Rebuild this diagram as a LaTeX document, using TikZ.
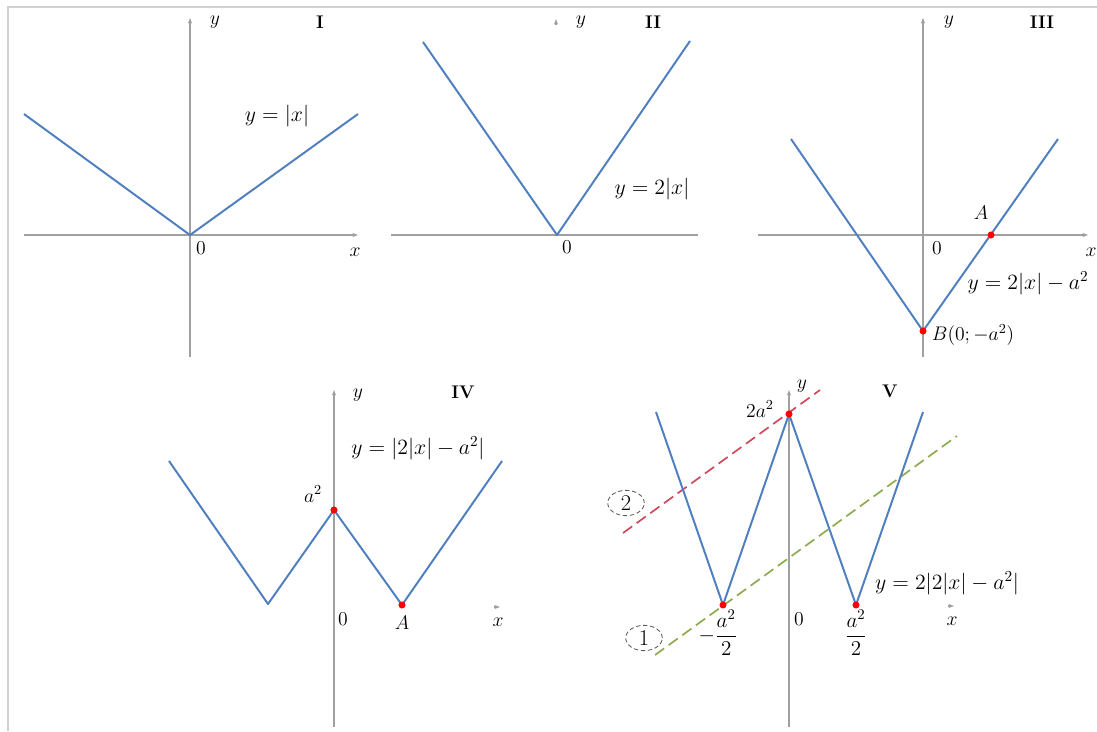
\RequirePackage{fix-cm}
\documentclass[tikz,border=0pt]{standalone}
\usepackage{amsmath}
\usetikzlibrary{arrows.meta, shapes.geometric}
\definecolor{graphblue}{HTML}{4F7FBF}
\definecolor{lineRed}{HTML}{D0485A}
\definecolor{lineGreen}{HTML}{8CAA4E}
\definecolor{axisGray}{HTML}{A0A0A0}
\tikzset{
  axis/.style={axisGray, line width=1pt, -{Stealth[length=4pt,width=3pt]}},
  bare axis/.style={axisGray, line width=1pt},
  graph/.style={graphblue, line width=1.4pt, line join=round},
  dot/.style={circle, fill=red, inner sep=0pt, minimum size=5pt},
  lbl/.style={font=\fontsize{14}{16}\selectfont},
  frac/.style={font=\fontsize{15}{17}\selectfont},
  eq/.style={font=\fontsize{15.5}{18}\selectfont},
  panel/.style={font=\fontsize{13}{15}\selectfont\bfseries},
  guide/.style={line width=1.2pt, dash pattern=on 8pt off 4pt},
  tag/.style={ellipse, draw=black!65, densely dashed, line width=0.6pt, inner sep=0pt,
    minimum width=26pt, minimum height=18pt, font=\fontsize{16}{18}\selectfont}
}

\begin{document}
\begin{tikzpicture}[x=0.025cm, y=-0.025cm]
    \useasboundingbox (0,0) rectangle (1097,731);
    % frame
    \draw[axisGray!50, line width=0.8pt] (1097,7) -- (8,7) -- (8,731);

    % I: y = |x|
    \coordinate (oI) at (190,235);
    \draw[axis] (24,235) -- (358,235);
    \draw[axis] (190,357) -- (190,18);
    \draw[graph] (24,114) -- (oI) -- (358,114);
    \node[lbl] (yI) at (215,22) {$y$};
    \node[panel] (tI) at (320,22) {I};
    \node[eq] (fI) at (277,116) {$y=|x|$};
    \node[lbl] (zI) at (201,248) {0};
    \node[lbl] (xI) at (355,252) {$x$};

    % II: y = 2|x|
    \coordinate (oII) at (557,235);
    \draw[axis] (556,25) -- (556,19);
    \draw[bare axis] (391,235) -- (698,235);
    \draw[graph] (423,42) -- (oII) -- (690,41);
    \node[lbl] (yII) at (581,22) {$y$};
    \node[panel] (tII) at (653,22) {II};
    \node[eq] (fII) at (652,189) {$y=2|x|$};
    \node[lbl] (zII) at (567,247) {0};

    % III: y = 2|x| - a^2
    \coordinate (bIII) at (923,331);
    \coordinate (aIII) at (991,235);
    \draw[axis] (758,235) -- (1088,235);
    \draw[axis] (923,357) -- (923,18);
    \draw[graph] (791,139) -- (bIII) -- (1058,139);
    \node[dot] (pA3) at (aIII) {};
    \node[dot] (pB3) at (bIII) {};
    \node[lbl] (lA3) at (981,213) {$A$};
    \node[lbl, anchor=west] (lB3) at (927,335) {$B(0;-a^2)$};
    \node[eq] (fIII) at (1028,283) {$y=2|x|-a^2$};
    \node[lbl] (yIII) at (949,22) {$y$};
    \node[panel] (tIII) at (1042,22) {III};
    \node[lbl] (zIII) at (937,248) {0};
    \node[lbl] (xIII) at (1091,252) {$x$};

    % IV: y = |2|x| - a^2|
    \coordinate (cIV) at (334,510);
    \coordinate (aIV) at (402,605);
    \draw[axis] (334,727) -- (334,390);
    \draw[axis] (494,607) -- (500,607);
    \draw[graph] (169,461) -- (268,604) -- (cIV) -- (aIV) -- (502,461);
    \node[dot] (pC4) at (cIV) {};
    \node[dot] (pA4) at (aIV) {};
    \node[lbl] (lC4) at (313,494) {$a^2$};
    \node[eq] (fIV) at (418,448) {$y=|2|x|-a^2|$};
    \node[lbl] (zIV) at (343,619) {0};
    \node[lbl] (lA4) at (402,623) {$A$};
    \node[lbl] (yIV) at (358,395) {$y$};
    \node[panel] (tIV) at (463,392) {IV};
    \node[lbl] (xIV) at (498,622) {$x$};

    % V: y = 2|2|x| - a^2|
    \coordinate (lV) at (723,605);
    \coordinate (cV) at (789,414);
    \coordinate (rV) at (856,605);
    \coordinate (r1) at (623,533);
    \coordinate (r2) at (820,390);
    \coordinate (g1) at (655,655);
    \coordinate (g2) at (957,436);
    \draw[axis] (789,727) -- (789,390);
    \draw[axis] (948,606) -- (954,606);
    \draw[guide, lineRed] (r1) -- (r2);
    \draw[guide, lineGreen] (g1) -- (g2);
    \draw[graph] (656,412) -- (lV) -- (cV) -- (rV) -- (923,412);
    \node[dot] (pL5) at (lV) {};
    \node[dot] (pC5) at (cV) {};
    \node[dot] (pR5) at (rV) {};
    \node[tag] (two) at (626,503) {2};
    \node[tag] (one) at (644,638) {1};
    \node[lbl] (lC5) at (760,409) {$2a^2$};
    \node[frac] (lL5) at (718,633) {$-\dfrac{a^2}{2}$};
    \node[frac] (lR5) at (856,633) {$\dfrac{a^2}{2}$};
    \node[lbl] (zV) at (799,619) {0};
    \node[eq] (fV) at (947,583) {$y=2|2|x|-a^2|$};
    \node[lbl] (yV) at (802,386) {$y$};
    \node[panel] (tV) at (890,391) {V};
    \node[lbl] (xV) at (952,621) {$x$};
\end{tikzpicture}
\end{document}
